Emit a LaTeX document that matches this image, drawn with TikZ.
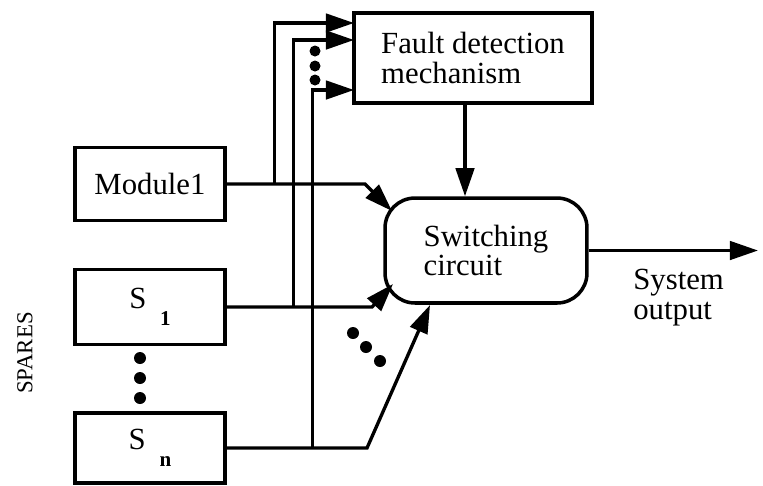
\documentclass[tikz,border=0pt]{standalone}
\usepackage{fontspec}
\setmainfont{Liberation Serif}
\usepackage{tikz}
\usetikzlibrary{arrows.meta, positioning, shapes.geometric}

\begin{document}
\begin{tikzpicture}[x=0.02cm, y=-0.02cm,
    base/.style={draw, line width=2pt, inner sep=0pt, text centered, font=\fontsize{17.5}{17}\selectfont},
    unit/.style={base, minimum width=3cm},
    fdm/.style={base, minimum width=4.76cm, minimum height=1.8cm, align=left},
    swc/.style={base, rounded corners=0.6cm, minimum width=4.04cm, minimum height=2.1cm, align=left},
    arr/.style={-{Triangle[length=16pt,width=10.5pt]}, line width=1.9pt},
    dot/.style={fill=black}]

    \useasboundingbox (0,0) rectangle (763,485);

    % Nodes
    \node [fdm] (fault) at (473,58) {Fault detection\\mechanism};
    \node [unit, minimum height=1.46cm] (mod) at (150,184) {Module1};
    \node [unit, minimum height=1.5cm] (s1) at (150,307) {S\hspace{0.45em}\raisebox{-1.2ex}{\fontsize{12}{12}\selectfont\bfseries 1}};
    \node [unit, minimum height=1.4cm] (sn) at (150,448) {S\hspace{0.45em}\raisebox{-1.2ex}{\fontsize{12}{12}\selectfont\bfseries n}};
    \node [swc] (sw) at (486,250.5) {Switching\\circuit};
    \node [align=left, inner sep=0pt, font=\fontsize{17.5}{17}\selectfont, anchor=west] (out) at (633,298) {System\\output};
    \node [rotate=90, inner sep=0pt, font=\fontsize{13}{13}\selectfont] (spares) at (25,353) {SPARES};

    % Arrow ends
    \coordinate (f1) at (354,23);
    \coordinate (f2) at (354,40);
    \coordinate (f3) at (354,90);
    \coordinate (in1) at (392,211);
    \coordinate (in2) at (393,284);
    \coordinate (in3) at (430,305);
    \coordinate (fd) at (465,103);
    \coordinate (outend) at (758,250);

    % Connectors
    \draw [arr] (mod.east) -- (365,184) -- (in1);
    \draw [arr] (s1.east) -- (372,307) -- (in2);
    \draw [arr] (sn.east) -- (367,448) -- (in3);
    \draw [arr] (mod.east) ++(48,0) |- (f1);
    \draw [arr] (s1.east) ++(67,0) |- (f2);
    \draw [arr] (sn.east) ++(86,0) |- (f3);
    \draw [arr] (fd) -- (fd |- sw.north);
    \draw [arr] (sw.east) -- (sw.east -| outend);

    % Dots
    \foreach \y in {358,378,398} \fill [dot] (140,\y) circle (6);
    \foreach \p in {(353,333),(366,347),(380,361)} \fill [dot] \p circle (6);
    \foreach \y in {51,66,80} \fill [dot] (315,\y) circle (5.5);
\end{tikzpicture}
\end{document}
